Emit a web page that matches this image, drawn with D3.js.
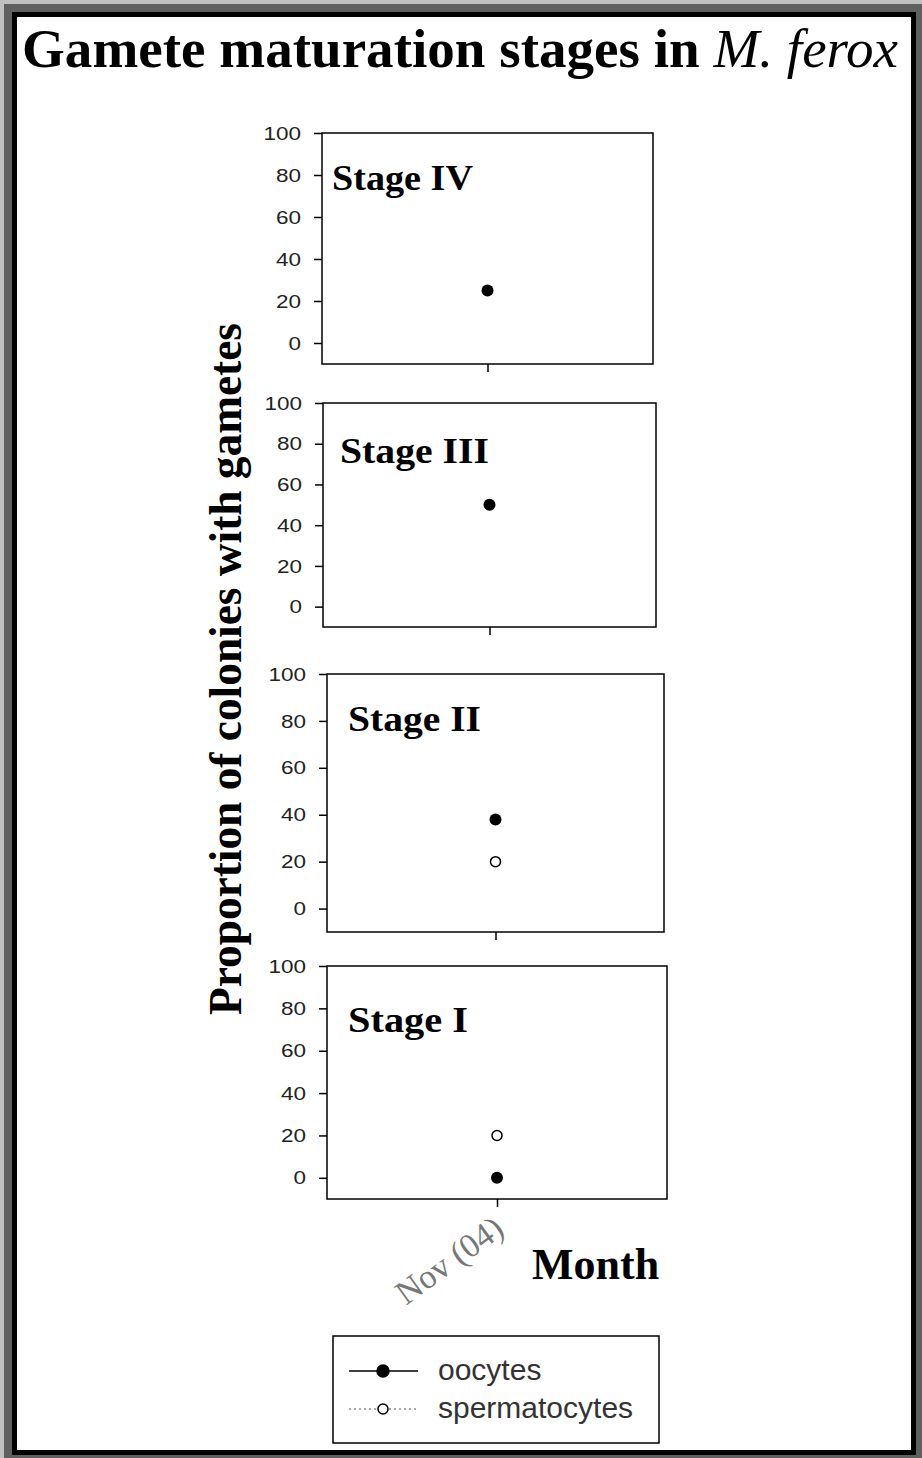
<!DOCTYPE html>
<html>
<head>
<meta charset="utf-8">
<script src="https://cdn.jsdelivr.net/npm/d3@7"></script>
<style>
  body { margin: 0; background: #fff; }
  svg { display: block; }
</style>
</head>
<body>
<svg></svg>
<script>
// data
const stages = ["Stage IV", "Stage III", "Stage II", "Stage I"];
const months = ["Nov (04)"];
const oocytes = [25, 50, 38, 0];
const spermatocytes = [null, null, 20, 20];
const yTicks = [0, 20, 40, 60, 80, 100];
const seriesNames = ["oocytes", "spermatocytes"];

const width = 922;
const height = 1458;

// panel boxes (left, right, top, bottom) and where the stage label sits
const panels = [
  { l: 322, r: 653, t: 133, b: 364, lx: 332, ly: 190, lw: 141 },
  { l: 323, r: 656, t: 403, b: 627, lx: 340, ly: 463, lw: 149 },
  { l: 327, r: 664, t: 674, b: 932, lx: 348, ly: 731, lw: 133 },
  { l: 327, r: 667, t: 966, b: 1199, lx: 348, ly: 1032, lw: 120 }
];

const serif = "'Liberation Serif', 'Times New Roman', serif";
const sans = "'Liberation Sans', Arial, sans-serif";

const svg = d3.select("svg")
              .attr("width", width)
              .attr("height", height);

// window style frame
svg.append("rect").attr("width", width).attr("height", height).attr("fill", "#606060");
svg.append("rect").attr("width", width).attr("height", 4).attr("fill", "#c0c0c0");
svg.append("rect").attr("width", 4).attr("height", height).attr("fill", "#c0c0c0");
svg.append("rect").attr("x", 12).attr("y", 12).attr("width", 904).attr("height", 1443).attr("fill", "#000");
svg.append("rect").attr("x", 17).attr("y", 17).attr("width", 894).attr("height", 1433).attr("fill", "#fff");

// title
const title = svg.append("text")
  .attr("x", 22)
  .attr("y", 67)
  .attr("textLength", 876)
  .attr("lengthAdjust", "spacingAndGlyphs")
  .style("font-family", serif)
  .style("font-size", "54px")
  .style("font-weight", "bold");
title.append("tspan").text("Gamete maturation stages in ");
title.append("tspan").style("font-style", "italic").style("font-weight", "normal").text("M. ferox");

// y label
svg.append("text")
  .attr("transform", "rotate(-90)")
  .attr("x", -669)
  .attr("y", 241)
  .attr("textLength", 692)
  .attr("lengthAdjust", "spacingAndGlyphs")
  .style("text-anchor", "middle")
  .style("font-family", serif)
  .style("font-size", "46px")
  .style("font-weight", "bold")
  .text("Proportion of colonies with gametes");

panels.forEach((p, i) => {
  const xScale = d3.scalePoint()
                   .domain(months)
                   .range([p.l, p.r])
                   .padding(0.5);

  const yScale = d3.scaleLinear()
                   .domain([-10, 100])
                   .range([p.b, p.t]);

  const g = svg.append("g");

  g.append("rect")
    .attr("x", p.l).attr("y", p.t)
    .attr("width", p.r - p.l).attr("height", p.b - p.t)
    .attr("fill", "none")
    .attr("stroke", "#000")
    .attr("stroke-width", 1.5);

  const yAxis = d3.axisLeft(yScale)
                  .tickValues(yTicks)
                  .tickSize(8)
                  .tickPadding(13)
                  .tickSizeOuter(0);

  const ya = g.append("g")
    .attr("transform", `translate(${p.l}, 0)`)
    .call(yAxis);
  ya.select(".domain").remove();
  ya.selectAll("line").attr("stroke-width", 1.5);
  ya.selectAll("text")
    .attr("textLength", d => String(d).length * 12.5)
    .attr("lengthAdjust", "spacingAndGlyphs")
    .style("font-family", sans)
    .style("font-size", "19px")
    .attr("fill", "#222");

  const xAxis = d3.axisBottom(xScale)
                  .tickSize(8)
                  .tickSizeOuter(0)
                  .tickFormat("");

  const xa = g.append("g")
    .attr("transform", `translate(0, ${p.b})`)
    .call(xAxis);
  xa.select(".domain").remove();
  xa.selectAll("line").attr("stroke-width", 1.5);

  g.append("text")
    .attr("x", p.lx)
    .attr("y", p.ly)
    .attr("textLength", p.lw)
    .attr("lengthAdjust", "spacingAndGlyphs")
    .style("font-family", serif)
    .style("font-size", "35px")
    .style("font-weight", "bold")
    .text(stages[i]);

  if (spermatocytes[i] !== null) {
    g.append("circle")
      .attr("cx", xScale(months[0]))
      .attr("cy", yScale(spermatocytes[i]))
      .attr("r", 5)
      .attr("fill", "#fff")
      .attr("stroke", "#000")
      .attr("stroke-width", 1.5);
  }
  if (oocytes[i] !== null) {
    g.append("circle")
      .attr("cx", xScale(months[0]))
      .attr("cy", yScale(oocytes[i]))
      .attr("r", 6)
      .attr("fill", "#000");
  }

  // month label under the last panel
  if (i === panels.length - 1) {
    g.append("text")
      .attr("transform", `translate(${xScale(months[0]) + 9}, ${p.b + 34}) rotate(-36)`)
      .style("text-anchor", "end")
      .style("font-family", serif)
      .style("font-size", "34px")
      .attr("fill", "#777")
      .text(months[0]);
  }
});

// x label
svg.append("text")
  .attr("x", 532)
  .attr("y", 1279)
  .style("font-family", serif)
  .style("font-size", "44px")
  .style("font-weight", "bold")
  .text("Month");

// legend
const legend = svg.append("g");
legend.append("rect")
  .attr("x", 333).attr("y", 1336)
  .attr("width", 326).attr("height", 107)
  .attr("fill", "#fff")
  .attr("stroke", "#000")
  .attr("stroke-width", 1.5);

seriesNames.forEach((name, i) => {
  const y = 1371 + i * 38;
  legend.append("line")
    .attr("x1", 349).attr("x2", 418)
    .attr("y1", y).attr("y2", y)
    .attr("stroke", i === 0 ? "#000" : "#555")
    .attr("stroke-width", i === 0 ? 1.5 : 1.2)
    .attr("stroke-dasharray", i === 0 ? null : "2,3");
  legend.append("circle")
    .attr("cx", 383).attr("cy", y)
    .attr("r", i === 0 ? 6 : 5)
    .attr("fill", i === 0 ? "#000" : "#fff")
    .attr("stroke", "#000")
    .attr("stroke-width", 1.5);
  legend.append("text")
    .attr("x", 438)
    .attr("y", y + 9)
    .style("font-family", sans)
    .style("font-size", "30px")
    .attr("fill", "#333")
    .text(name);
});
</script>
</body>
</html>
